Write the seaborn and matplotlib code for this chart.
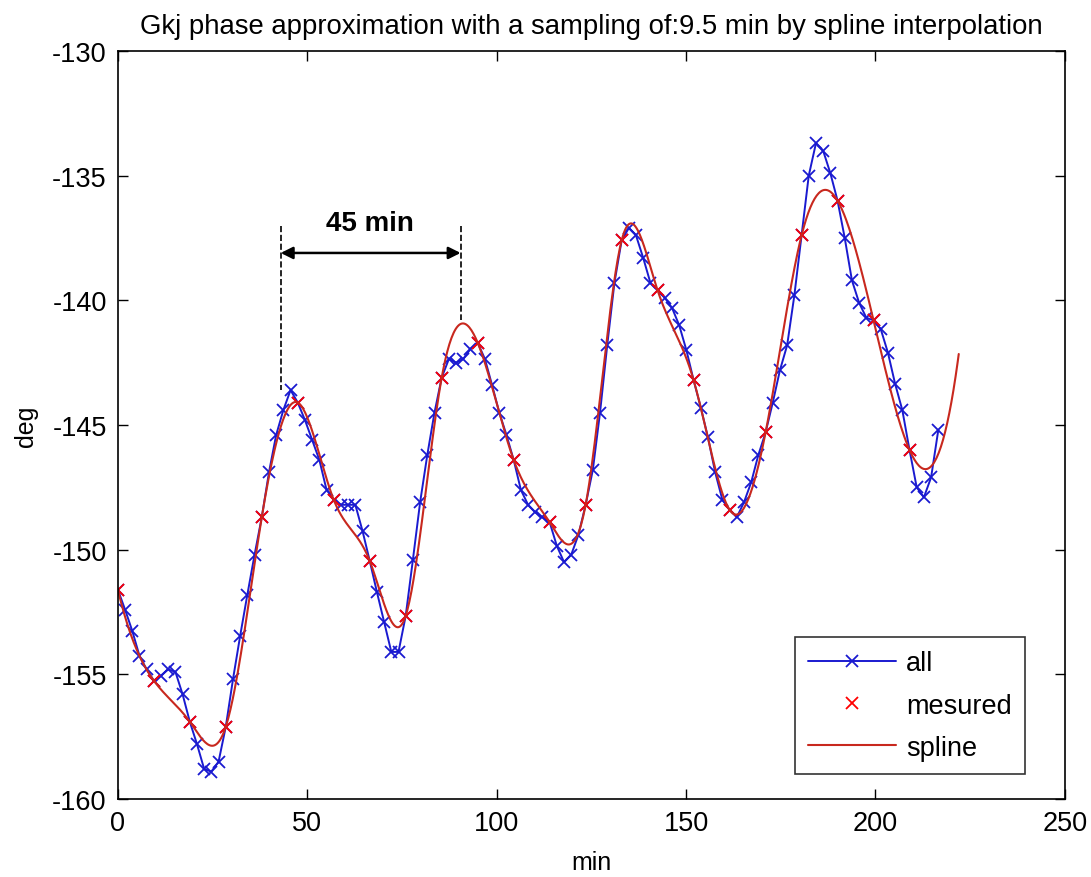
import numpy as np
import matplotlib
matplotlib.use("Agg")
import matplotlib.pyplot as plt
import seaborn as sns

# sampling of the "all" series (min) and sub-sampling factor for "mesured"
SAMPLE_STEP = 1.9
MEASURE_EVERY = 5

# phase of every sample (deg)
all_deg = [
    -151.6, -152.4, -153.25, -154.25, -154.8, -155.25, -155.05, -154.8, -154.9, -155.8,
    -156.9, -157.8, -158.8, -158.9, -158.5, -157.1, -155.2, -153.45, -151.8, -150.2,
    -148.7, -146.9, -145.4, -144.4, -143.6, -144.1, -144.8, -145.6, -146.4, -147.6,
    -148.0, -148.2, -148.2, -148.2, -149.25, -150.45, -151.7, -152.9, -154.1, -154.1,
    -152.65, -150.4, -148.1, -146.2, -144.5, -143.1, -142.35, -142.5, -142.35, -141.95,
    -141.7, -142.35, -143.4, -144.5, -145.4, -146.4, -147.6, -148.2, -148.5, -148.7,
    -148.9, -149.85, -150.5, -150.2, -149.4, -148.2, -146.8, -144.5, -141.8, -139.3,
    -137.6, -137.1, -137.4, -138.3, -139.3, -139.6, -139.9, -140.3, -141.0, -142.0,
    -143.2, -144.3, -145.5, -146.9, -148.0, -148.4, -148.7, -148.1, -147.3, -146.2,
    -145.3, -144.1, -142.8, -141.8, -139.8, -137.4, -135.0, -133.7, -134.0, -134.9,
    -136.0, -137.5, -139.2, -140.1, -140.7, -140.8, -141.15, -142.1, -143.35, -144.4,
    -146.0, -147.5, -147.9, -147.1, -145.2,
]
SPLINE_END = 222.0

x_ticks = [0, 50, 100, 150, 200, 250]
y_ticks = [-160, -155, -150, -145, -140, -135, -130]


def spline_not_a_knot(x, y, xq):
    # cubic spline with not-a-knot ends (same as MATLAB spline)
    x = np.asarray(x, float)
    y = np.asarray(y, float)
    n = len(x)
    h = np.diff(x)
    A = np.zeros((n, n))
    b = np.zeros(n)
    A[0, 0], A[0, 1], A[0, 2] = -h[1], h[0] + h[1], -h[0]
    for i in range(1, n - 1):
        A[i, i - 1] = h[i - 1]
        A[i, i] = 2 * (h[i - 1] + h[i])
        A[i, i + 1] = h[i]
        b[i] = 6 * ((y[i + 1] - y[i]) / h[i] - (y[i] - y[i - 1]) / h[i - 1])
    A[-1, -3], A[-1, -2], A[-1, -1] = -h[-1], h[-2] + h[-1], -h[-2]
    M = np.linalg.solve(A, b)
    idx = np.clip(np.searchsorted(x, xq) - 1, 0, n - 2)
    x0, x1 = x[idx], x[idx + 1]
    hh = x1 - x0
    return (M[idx] * (x1 - xq) ** 3 / (6 * hh) + M[idx + 1] * (xq - x0) ** 3 / (6 * hh)
            + (y[idx] / hh - M[idx] * hh / 6) * (x1 - xq)
            + (y[idx + 1] / hh - M[idx + 1] * hh / 6) * (xq - x0))


t_all = np.arange(len(all_deg)) * SAMPLE_STEP
y_all = np.array(all_deg)
t_meas = t_all[::MEASURE_EVERY]
y_meas = y_all[::MEASURE_EVERY]
t_fine = np.linspace(0, SPLINE_END, 800)
y_fine = spline_not_a_knot(t_meas, y_meas, t_fine)

sns.set_style("ticks")
plt.rcParams["font.family"] = ["Liberation Sans", "DejaVu Sans"]
plt.rcParams["axes.unicode_minus"] = False
plt.rcParams["text.color"] = "black"
plt.rcParams["axes.labelcolor"] = "black"

fig = plt.figure(figsize=(10.91, 8.78), dpi=100)
ax = fig.add_axes([0.108, 0.0888, 0.868, 0.852])

sns.lineplot(x=t_all, y=y_all, ax=ax, color="#1a1ad0", lw=1.4, marker="x",
             markersize=8.5, markeredgewidth=1.3, markeredgecolor="#1a1ad0",
             sort=False, estimator=None, label="all")
sns.lineplot(x=t_meas, y=y_meas, ax=ax, color="red", lw=0, marker="x",
             markersize=8.5, markeredgewidth=1.3, markeredgecolor="red",
             sort=False, estimator=None, label="mesured")
sns.lineplot(x=t_fine, y=y_fine, ax=ax, color="#c8281e", lw=1.5,
             sort=False, estimator=None, label="spline")

ax.set_xlim(0, 250)
ax.set_ylim(-160, -130)
ax.set_xticks(x_ticks)
ax.set_yticks(y_ticks)
ax.tick_params(direction="in", length=7, width=1, top=True, right=True,
               labelsize=19.5, pad=8, colors="black")
for s in ax.spines.values():
    s.set_visible(True)
    s.set_linewidth(1.2)
    s.set_color("black")

ax.set_title("Gkj phase approximation with a sampling of:9.5 min by spline interpolation",
             fontsize=19.8, pad=13)
ax.set_xlabel("min", fontsize=18, labelpad=10)
ax.set_ylabel("deg", fontsize=18, labelpad=10)

# 45 min period annotation
ax.plot([43.0, 43.0], [-137.0, -143.6], ls="--", color="black", lw=1.2)
ax.plot([90.5, 90.5], [-137.0, -140.8], ls="--", color="black", lw=1.2)
ax.annotate("", xy=(43.0, -138.1), xytext=(90.5, -138.1),
            arrowprops=dict(arrowstyle="<|-|>", color="black", lw=1.8,
                            mutation_scale=18, shrinkA=0, shrinkB=0))
ax.text(66.5, -136.9, "45 min", ha="center", va="center", fontsize=20,
        fontweight="bold")

leg = ax.legend(loc="lower right", bbox_to_anchor=(0.958, 0.033),
                borderaxespad=0, fontsize=19.5, frameon=True, fancybox=False,
                handlelength=3.25, labelspacing=0.6, borderpad=0.5,
                handletextpad=0.35)
leg.get_frame().set_edgecolor("black")
leg.get_frame().set_linewidth(1.2)

fig.savefig("out.png", dpi=100)
